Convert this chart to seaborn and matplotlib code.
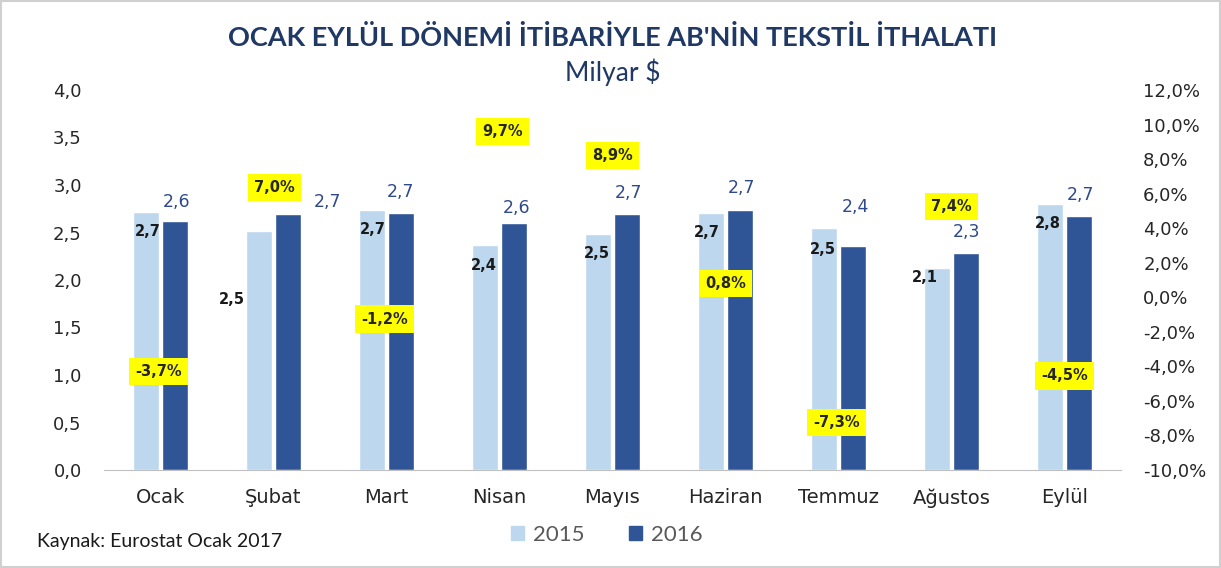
import pandas as pd
import seaborn as sns
import matplotlib.pyplot as plt
from matplotlib.patches import Rectangle, Patch

aylar = ['Ocak', 'Şubat', 'Mart', 'Nisan', 'Mayıs', 'Haziran', 'Temmuz', 'Ağustos', 'Eylül']
ithalat_2015 = [2.72, 2.52, 2.74, 2.37, 2.48, 2.71, 2.55, 2.13, 2.80]
ithalat_2016 = [2.62, 2.69, 2.71, 2.60, 2.70, 2.74, 2.36, 2.28, 2.67]
etiket_2015 = ['2,7', '2,5', '2,7', '2,4', '2,5', '2,7', '2,5', '2,1', '2,8']
etiket_2016 = ['2,6', '2,7', '2,7', '2,6', '2,7', '2,7', '2,4', '2,3', '2,7']
degisim = [-3.7, 7.0, -1.2, 9.7, 8.9, 0.8, -7.3, 7.4, -4.5]

# label offsets (pixels) - tuned by eye
ofs_2015 = [(2, -20), (-27, -69), (1, -20), (-1, -21), (-1, -19), (-4, -20), (-1, -22), (-12, -10), (-2, -19)]
ofs_2016 = [(1, 19), (39, 12), (-1, 21), (2, 15), (1, 21), (1, 22), (2, 39), (0, 21), (1, 21)]
ofs_pct = [(-2, -10), (1, -11), (-2, -1), (3, -2), (0, -12), (0, 0), (-2, 1), (0, -37), (0, -1)]

df = pd.DataFrame({
    'Ay': aylar * 2,
    'Deger': ithalat_2015 + ithalat_2016,
    'Yil': ['2015'] * 9 + ['2016'] * 9,
})

sns.set_style('white')
plt.rcParams['font.family'] = ['DejaVu Sans']
baslik_font = ['Lato', 'DejaVu Sans']

fig = plt.figure(figsize=(12.21, 5.68), dpi=100)
ax = fig.add_axes([104 / 1221, 1 - 470 / 568, (1121 - 104) / 1221, (470 - 90) / 568])

renkler = {'2015': '#BDD7EE', '2016': '#2F5597'}
sns.barplot(data=df, x='Ay', y='Deger', hue='Yil', palette=renkler, width=0.52, gap=0.12,
            ax=ax, legend=False, saturation=1)

ax.set_ylim(0, 4)
ax.set_yticks([i * 0.5 for i in range(9)])
ax.set_yticklabels([f'{i * 0.5:.1f}'.replace('.', ',') for i in range(9)], fontsize=13, color='#262626')
ax.set_xticks(range(len(aylar)))
ax.set_xticklabels(aylar, fontsize=14, color='#262626')
ax.set_xlabel('')
ax.set_ylabel('')
ax.tick_params(axis='y', length=0, pad=16)
ax.tick_params(axis='x', length=0, pad=13)
for s in ['top', 'left', 'right']:
    ax.spines[s].set_visible(False)
ax.spines['bottom'].set_color('#bfbfbf')
ax.set_xlim(-0.5, len(aylar) - 0.5)

px = 0.72
for i, p in enumerate(ax.containers[0]):
    x = p.get_x() + p.get_width() / 2
    ax.annotate(etiket_2015[i], (x, p.get_height()), xytext=(ofs_2015[i][0] * px, ofs_2015[i][1] * px),
                textcoords='offset points', ha='center', va='center', fontsize=10.5,
                fontweight='bold', color='#1a1a1a')
for i, p in enumerate(ax.containers[1]):
    x = p.get_x() + p.get_width() / 2
    ax.annotate(etiket_2016[i], (x, p.get_height()), xytext=(ofs_2016[i][0] * px, ofs_2016[i][1] * px),
                textcoords='offset points', ha='center', va='center', fontsize=12.5,
                color='#2E4A8B')

ax2 = ax.twinx()
ax2.set_ylim(-10, 12)
ax2.set_yticks(range(-10, 13, 2))
ax2.set_yticklabels([f'{v:.1f}%'.replace('.', ',') for v in range(-10, 13, 2)], fontsize=13, color='#262626')
ax2.tick_params(axis='y', length=0, pad=16)
for s in ['top', 'left', 'right', 'bottom']:
    ax2.spines[s].set_visible(False)
ax2.grid(False)
for i, v in enumerate(degisim):
    ax2.annotate(f'{v:.1f}%'.replace('.', ','), (i, v), xytext=(ofs_pct[i][0] * px, ofs_pct[i][1] * px),
                 textcoords='offset points', ha='center', va='center', fontsize=10.5,
                 fontweight='bold', color='#262626',
                 bbox=dict(boxstyle='square,pad=0.42', fc='#FFFF00', ec='none'))

fig.text(0.502, 1 - 37 / 568, "OCAK EYLÜL DÖNEMİ İTİBARİYLE AB'NİN TEKSTİL İTHALATI",
         ha='center', va='center', fontsize=19.5, fontweight='bold', color='#1F3864', family=baslik_font)
fig.text(0.502, 1 - 72 / 568, 'Milyar $', ha='center', va='center', fontsize=19, color='#1F3864',
         family=baslik_font)
fig.text(37 / 1221, 1 - 541 / 568, 'Kaynak: Eurostat Ocak 2017', ha='left', va='center',
         fontsize=14, color='#1a1a1a', family=baslik_font)

# legend
handles = [Patch(color=renkler['2015'], label='2015'), Patch(color=renkler['2016'], label='2016')]
fig.legend(handles=handles, loc='center', bbox_to_anchor=(607 / 1221, 1 - 535 / 568), ncol=2,
           frameon=False, prop={'family': baslik_font, 'size': 16}, handlelength=0.6, handleheight=0.6,
           handletextpad=0.4, columnspacing=2.0, labelcolor='#595959')

fig.patches.append(Rectangle((0.001, 0.001), 0.998, 0.997, transform=fig.transFigure, fill=False,
                             edgecolor='#d0d0d0', lw=1.5))

fig.savefig('out.png', dpi=100)
